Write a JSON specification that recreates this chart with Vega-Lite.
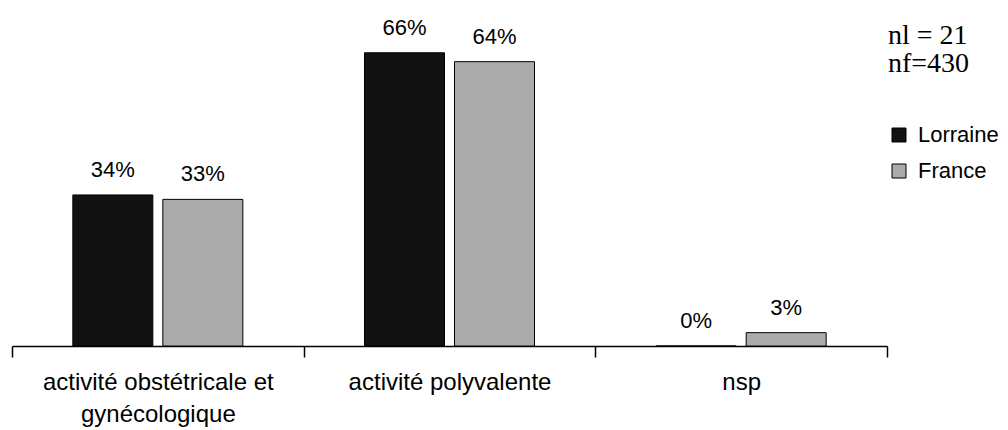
{
  "$schema": "https://vega.github.io/schema/vega-lite/v6.json",
  "width": 875,
  "height": 311,
  "autosize": {"type": "none"},
  "padding": {"left": 12, "top": 35, "right": 121, "bottom": 84},
  "background": "white",
  "config": {"view": {"stroke": null}, "font": "Liberation Sans"},
  "data": {
    "values": [
      {"cat": "activité obstétricale et gynécologique", "region": "Lorraine", "v": 0.34},
      {"cat": "activité obstétricale et gynécologique", "region": "France", "v": 0.33},
      {"cat": "activité polyvalente", "region": "Lorraine", "v": 0.66},
      {"cat": "activité polyvalente", "region": "France", "v": 0.64},
      {"cat": "nsp", "region": "Lorraine", "v": 0.0},
      {"cat": "nsp", "region": "France", "v": 0.03}
    ]
  },
  "encoding": {
    "x": {
      "field": "cat",
      "type": "nominal",
      "sort": ["activité obstétricale et gynécologique", "activité polyvalente", "nsp"],
      "scale": {"paddingInner": 0, "paddingOuter": 0},
      "title": null,
      "axis": {
        "domainColor": "black",
        "domainWidth": 1.5,
        "tickColor": "black",
        "tickWidth": 1.5,
        "tickSize": 11,
        "tickBand": "extent",
        "labelAngle": 0,
        "labelFontSize": 24,
        "labelColor": "black",
        "labelPadding": 13,
        "labelLineHeight": 32,
        "labelLimit": 0,
        "labelExpr": "datum.label == 'activité obstétricale et gynécologique' ? ['activité obstétricale et', 'gynécologique'] : datum.label"
      }
    },
    "xOffset": {
      "field": "region",
      "type": "nominal",
      "sort": ["Lorraine", "France"],
      "scale": {"paddingInner": 0.111, "paddingOuter": 0.676}
    },
    "y": {
      "field": "v",
      "type": "quantitative",
      "scale": {"domain": [0, 0.7]},
      "axis": null
    }
  },
  "layer": [
    {
      "mark": {"type": "bar", "stroke": "black", "strokeWidth": 1},
      "encoding": {
        "color": {
          "field": "region",
          "type": "nominal",
          "sort": ["Lorraine", "France"],
          "scale": {"domain": ["Lorraine", "France"], "range": ["#121212", "#ababab"]},
          "legend": {
            "orient": "none",
            "legendX": 876,
            "legendY": -13,
            "padding": 0,
            "title": ["nl = 21", "nf=430"],
            "titleFont": "Liberation Serif",
            "titleFontSize": 28,
            "titleFontWeight": "normal",
            "titleColor": "black",
            "titleLineHeight": 28,
            "titlePadding": 46,
            "labelFontSize": 22,
            "labelColor": "black",
            "labelOffset": 8,
            "symbolType": "square",
            "symbolSize": 196,
            "symbolStrokeColor": "black",
            "symbolStrokeWidth": 1,
            "symbolOpacity": 1,
            "rowPadding": 14
          }
        }
      }
    },
    {
      "mark": {"type": "text", "baseline": "alphabetic", "dy": -18, "fontSize": 22, "color": "black"},
      "encoding": {"text": {"field": "v", "type": "quantitative", "format": ".0%"}}
    }
  ]
}
